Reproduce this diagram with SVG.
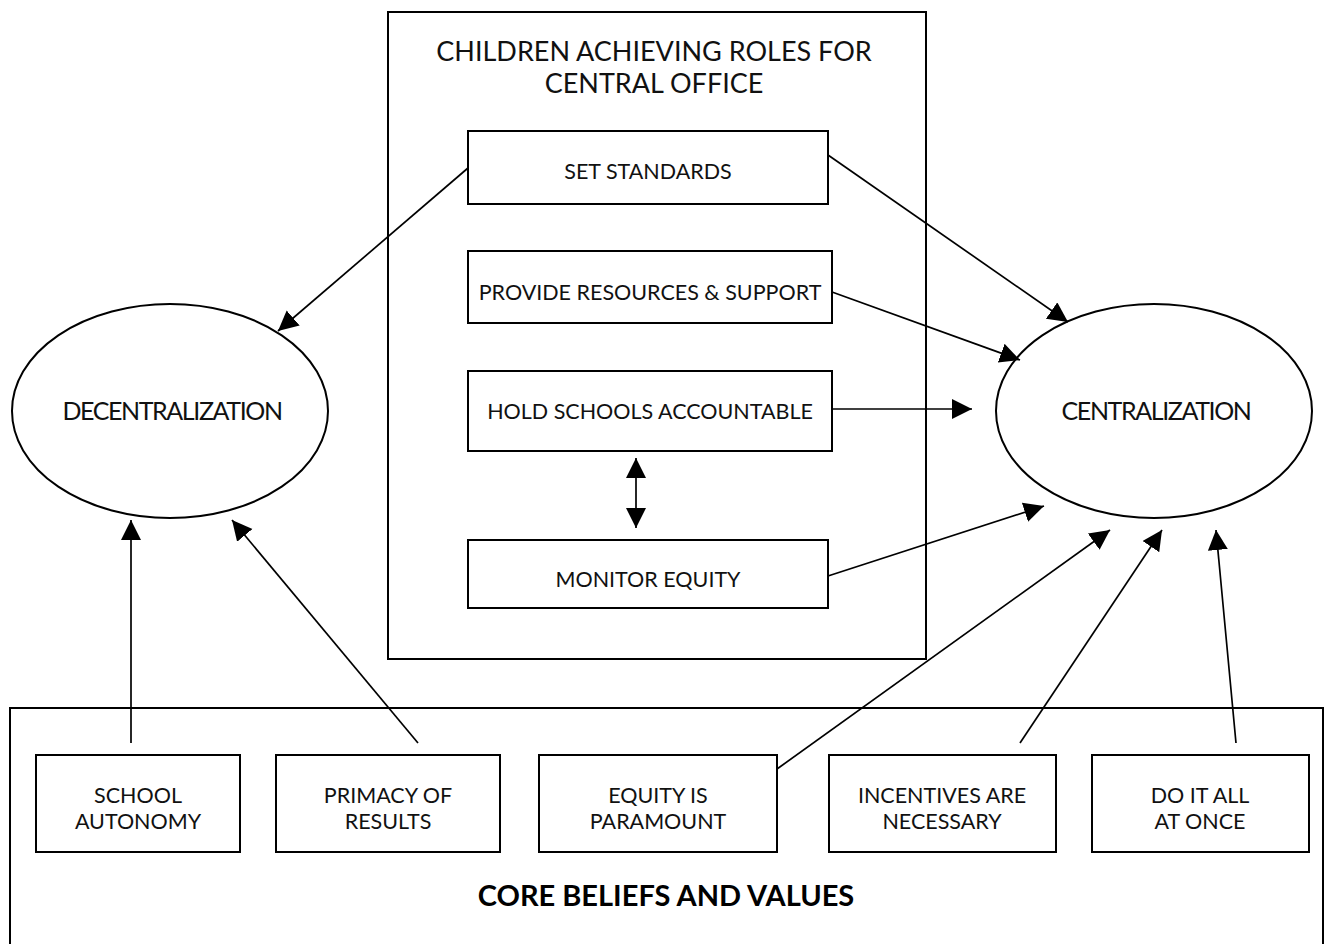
<svg xmlns="http://www.w3.org/2000/svg" width="1330" height="944" viewBox="0 0 1330 944">
<defs>
<marker id="ah" markerUnits="userSpaceOnUse" markerWidth="22" markerHeight="22" refX="20" refY="10" orient="auto-start-reverse" viewBox="0 0 22 22">
<path d="M0,0 L20,10 L0,20 z" fill="#000"/>
</marker>
</defs>
<style>
.box{fill:#fff;stroke:#000;stroke-width:2}
.frame{fill:none;stroke:#000;stroke-width:2}
.ell{fill:#fff;stroke:#000;stroke-width:2}
.t{font-family:"Lato","Liberation Sans",sans-serif;font-size:21.5px;fill:#111;text-anchor:middle}
.big{font-family:"Lato","Liberation Sans",sans-serif;font-size:27px;fill:#111;text-anchor:middle}
.ellt{font-family:"Lato","Liberation Sans",sans-serif;font-size:25px;fill:#111;text-anchor:middle;letter-spacing:-1.4px}
.core{font-family:"Lato","Liberation Sans",sans-serif;font-size:29px;font-weight:bold;fill:#000;text-anchor:middle}
.c{stroke:#000;stroke-width:1.7;fill:none;marker-end:url(#ah)}
</style>
<rect width="1330" height="944" fill="#fff"/>

<g id="central-office">
<rect class="frame" x="388" y="12" width="538" height="647"/>
<text class="big" x="654" y="61">CHILDREN ACHIEVING ROLES FOR</text>
<text class="big" x="654" y="93">CENTRAL OFFICE</text>
</g>

<g id="core-beliefs">
<rect class="frame" x="10" y="708" width="1313" height="250"/>
<text class="core" x="666" y="906">CORE BELIEFS AND VALUES</text>
</g>

<g id="set-standards">
<rect class="box" x="468" y="131" width="360" height="73"/>
<text class="t" x="648" y="179">SET STANDARDS</text>
</g>
<g id="provide-resources">
<rect class="box" x="468" y="251" width="364" height="72"/>
<text class="t" x="650" y="300">PROVIDE RESOURCES &amp; SUPPORT</text>
</g>
<g id="hold-accountable">
<rect class="box" x="468" y="371" width="364" height="80"/>
<text class="t" x="650" y="419">HOLD SCHOOLS ACCOUNTABLE</text>
</g>
<g id="monitor-equity">
<rect class="box" x="468" y="540" width="360" height="68"/>
<text class="t" x="648" y="587">MONITOR EQUITY</text>
</g>

<g id="decentralization">
<ellipse class="ell" cx="170" cy="411" rx="158" ry="107"/>
<text class="ellt" x="172" y="420">DECENTRALIZATION</text>
</g>
<g id="centralization">
<ellipse class="ell" cx="1154" cy="411" rx="158" ry="107"/>
<text class="ellt" x="1156" y="420">CENTRALIZATION</text>
</g>

<g id="school-autonomy">
<rect class="box" x="36" y="755" width="204" height="97"/>
<text class="t" x="138" y="803">SCHOOL</text>
<text class="t" x="138" y="829">AUTONOMY</text>
</g>
<g id="primacy-of-results">
<rect class="box" x="276" y="755" width="224" height="97"/>
<text class="t" x="388" y="803">PRIMACY OF</text>
<text class="t" x="388" y="829">RESULTS</text>
</g>
<g id="equity-paramount">
<rect class="box" x="539" y="755" width="238" height="97"/>
<text class="t" x="658" y="803">EQUITY IS</text>
<text class="t" x="658" y="829">PARAMOUNT</text>
</g>
<g id="incentives-necessary">
<rect class="box" x="829" y="755" width="227" height="97"/>
<text class="t" x="942" y="803">INCENTIVES ARE</text>
<text class="t" x="942" y="829">NECESSARY</text>
</g>
<g id="do-it-all">
<rect class="box" x="1092" y="755" width="217" height="97"/>
<text class="t" x="1200" y="803">DO IT ALL</text>
<text class="t" x="1200" y="829">AT ONCE</text>
</g>

<g id="connectors">
<line class="c" x1="468" y1="168" x2="278" y2="331"/>
<line class="c" x1="828" y1="155" x2="1068" y2="322"/>
<line class="c" x1="832" y1="292" x2="1020" y2="360"/>
<line class="c" x1="832" y1="409" x2="972" y2="409"/>
<line class="c" x1="828" y1="576" x2="1044" y2="506"/>
<line class="c" x1="636" y1="458" x2="636" y2="528" marker-start="url(#ah)"/>
<line class="c" x1="777" y1="769" x2="1110" y2="530"/>
<line class="c" x1="1020" y1="743" x2="1162" y2="530"/>
<line class="c" x1="1236" y1="743" x2="1216" y2="530"/>
<line class="c" x1="131" y1="743" x2="131" y2="520"/>
<line class="c" x1="418" y1="743" x2="232" y2="520"/>
</g>
</svg>
